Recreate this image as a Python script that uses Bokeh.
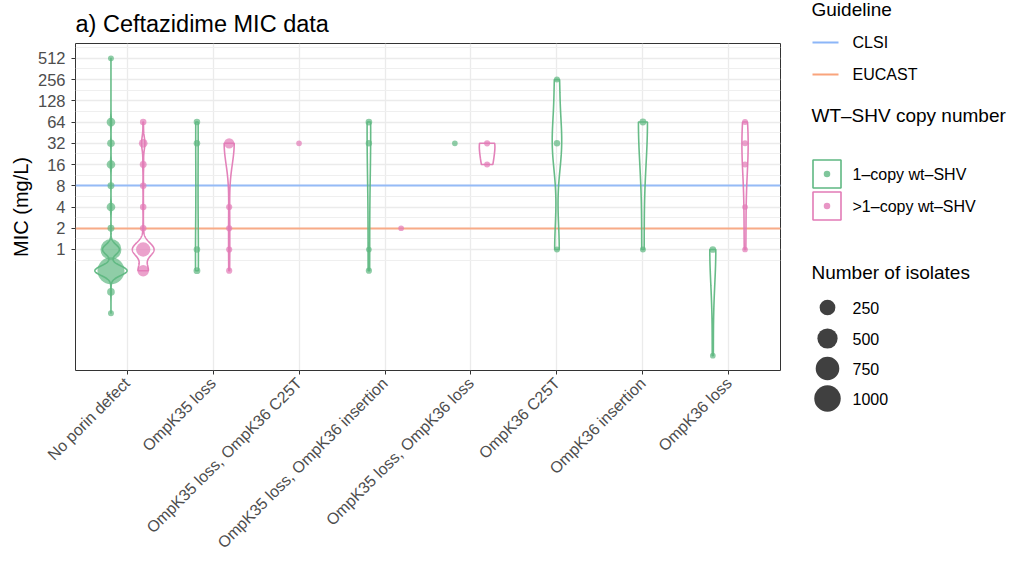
import math
import numpy as np
from bokeh.plotting import figure
from bokeh.models import Range1d, FixedTicker, ColumnDataSource
from bokeh.layouts import row
from bokeh.embed import file_html
from bokeh.resources import INLINE
from bokeh.core.properties import value

# ---------------- data ----------------
categories = ["No porin defect", "OmpK35 loss", "OmpK35 loss, OmpK36 C25T",
              "OmpK35 loss, OmpK36 insertion", "OmpK35 loss, OmpK36 loss",
              "OmpK36 C25T", "OmpK36 insertion", "OmpK36 loss"]
copy_groups = ["1\u2013copy wt\u2013SHV", ">1\u2013copy wt\u2013SHV"]
copy_colors = ["#5FB882", "#E27BB6"]
mic_breaks = [1, 2, 4, 8, 16, 32, 64, 128, 256, 512]

# one row per (porin category, copy group, MIC): number of isolates
pt_cat = [0, 0, 0, 0, 0, 0, 0, 0, 0, 0, 0,
          0, 0, 0, 0, 0, 0, 0, 0,
          1, 1, 1, 1,
          1, 1, 1, 1, 1,
          2,
          3, 3, 3, 3,
          3,
          4,
          4, 4,
          5, 5, 5,
          6, 6,
          7, 7,
          7, 7, 7, 7, 7]
pt_copy = [0, 0, 0, 0, 0, 0, 0, 0, 0, 0, 0,
           1, 1, 1, 1, 1, 1, 1, 1,
           0, 0, 0, 0,
           1, 1, 1, 1, 1,
           1,
           0, 0, 0, 0,
           1,
           0,
           1, 1,
           0, 0, 0,
           0, 0,
           0, 0,
           1, 1, 1, 1, 1]
pt_mic = [0.125, 0.25, 0.5, 1, 2, 4, 8, 16, 32, 64, 512,
          0.5, 1, 2, 4, 8, 16, 32, 64,
          0.5, 1, 32, 64,
          0.5, 1, 2, 4, 32,
          32,
          0.5, 1, 32, 64,
          2,
          32,
          16, 32,
          1, 32, 256,
          1, 64,
          0.03125, 1,
          1, 4, 16, 32, 64]
pt_n = [2, 15, 1050, 550, 8, 29, 8, 29, 15, 29, 2,
        90, 190, 5, 5, 5, 8, 29, 5,
        7, 5, 5, 5,
        3, 3, 3, 3, 60,
        1,
        3, 1, 4, 6,
        1,
        1,
        2, 3,
        2, 4, 2,
        2, 8,
        1, 6,
        1, 1, 2, 2, 2]

guide_names = ["CLSI", "EUCAST"]
guide_mic = [8, 2]
guide_colors = ["#8CB6F8", "#F9A47C"]
size_breaks = [250, 500, 750, 1000]

# ---------------- derived: dodge, sizes, violins ----------------
FONT = "Liberation Sans"
DODGE = 0.75
pt_cat_a = np.array(pt_cat)
pt_copy_a = np.array(pt_copy)
pt_mic_a = np.array(pt_mic, dtype=float)
pt_n_a = np.array(pt_n, dtype=float)

n_lo, n_hi = pt_n_a.min(), pt_n_a.max()


def diameter(n):
    s = 1 + 5 * (np.sqrt(n) - np.sqrt(n_lo)) / (np.sqrt(n_hi) - np.sqrt(n_lo))
    return 1.5 * (s * 2.845 + 0.945)


centers = {}
slots = {}
for c in range(len(categories)):
    present = sorted(set(pt_copy_a[pt_cat_a == c].tolist()))
    k = len(present)
    slot = DODGE / k
    for j, g in enumerate(present):
        centers[(c, g)] = (c + 1) + (j - (k - 1) / 2) * slot
        slots[(c, g)] = slot


def bw_nrd0(x):
    hi = np.std(x, ddof=1)
    q75, q25 = np.percentile(x, [75, 25])
    lo = min(hi, (q75 - q25) / 1.34)
    if lo == 0:
        lo = hi if hi else (abs(x[0]) if x[0] else 1.0)
    return 0.9 * lo * len(x) ** -0.2


ADJUST = 1.5
viol = []
for (c, g), cx in centers.items():
    m = (pt_cat_a == c) & (pt_copy_a == g)
    lx = np.log2(pt_mic_a[m])
    w = pt_n_a[m]
    if w.sum() < 2 or len(lx) < 2:
        continue
    obs = np.repeat(lx, w.astype(int))
    bw = bw_nrd0(obs) * ADJUST
    grid = np.linspace(lx.min(), lx.max(), 512)
    dens = (w[None, :] * np.exp(-0.5 * ((grid[:, None] - lx[None, :]) / bw) ** 2)).sum(1)
    dens = dens / (w.sum() * bw * math.sqrt(2 * math.pi))
    viol.append((c, g, cx, grid, dens))

dmax = max(v[4].max() for v in viol)
v_xs, v_ys, v_col = [], [], []
for c, g, cx, grid, dens in viol:
    hw = dens / dmax * slots[(c, g)] / 2
    v_xs.append(np.concatenate([cx - hw, (cx + hw)[::-1]]).tolist())
    v_ys.append(np.concatenate([2 ** grid, (2 ** grid)[::-1]]).tolist())
    v_col.append(copy_colors[g])

pts = ColumnDataSource(dict(
    x=[centers[(c, g)] for c, g in zip(pt_cat, pt_copy)],
    y=pt_mic,
    size=diameter(pt_n_a).tolist(),
    color=[copy_colors[g] for g in pt_copy],
))

# ---------------- main panel ----------------
H = 561
p = figure(width=782, height=H, x_range=Range1d(0.4, 8.6),
           y_range=Range1d(2 ** -5.7, 2 ** 9.7), y_axis_type="log",
           output_backend="svg", toolbar_location=None,
           min_border_left=75, min_border_right=2, min_border_top=43, min_border_bottom=191)
p.frame_align = False

p.title.text = "a) Ceftazidime MIC data"
p.title.text_font = FONT
p.title.text_font_size = "23.5px"
p.title.text_font_style = "normal"
p.title.text_color = "black"
p.title.align = "left"
p.title.standoff = 13

p.outline_line_color = "#333333"
p.outline_line_width = 1
p.xgrid.grid_line_color = "#EBEBEB"
p.xgrid.grid_line_width = 1.3
p.ygrid.grid_line_color = "#EBEBEB"
p.ygrid.grid_line_width = 1.3
p.ygrid.minor_grid_line_color = "#EFEFEF"
p.ygrid.minor_grid_line_width = 1.0

minor = [2 ** (k + 0.5) for k in range(-1, 10)]
p.yaxis.ticker = FixedTicker(ticks=mic_breaks, minor_ticks=minor)
p.yaxis.major_label_overrides = {b: str(b) for b in mic_breaks}
p.yaxis.axis_label = "MIC (mg/L)"
p.xaxis.ticker = FixedTicker(ticks=list(range(1, len(categories) + 1)))
p.xaxis.major_label_overrides = {i + 1: c for i, c in enumerate(categories)}
p.xaxis.major_label_orientation = math.pi / 4

for ax in (p.xaxis[0], p.yaxis[0]):
    ax.axis_line_color = None
    ax.major_tick_line_color = "#333333"
    ax.major_tick_out = 4
    ax.major_tick_in = 0
    ax.minor_tick_line_color = None
    ax.major_label_text_color = "#4D4D4D"
    ax.major_label_text_font = FONT
    ax.major_label_standoff = 6
p.xaxis.major_label_text_font_size = "16px"
p.yaxis.major_label_text_font_size = "16.5px"
p.yaxis.axis_label_text_font = FONT
p.yaxis.axis_label_text_font_size = "20px"
p.yaxis.axis_label_text_font_style = "normal"
p.yaxis.axis_label_text_color = "black"
p.yaxis.axis_label_standoff = 3

p.hspan(y=guide_mic, line_color=guide_colors, line_width=2.2, line_alpha=0.9)
p.patches(v_xs, v_ys, fill_alpha=0, line_color=v_col, line_width=1.6, line_alpha=0.95)
p.scatter("x", "y", size="size", fill_color="color", line_color=None, fill_alpha=0.7, source=pts)

# ---------------- legend panel ----------------
LW = 234
lg = figure(width=LW, height=H, x_range=Range1d(0, LW), y_range=Range1d(H, 0),
            output_backend="svg", toolbar_location=None, min_border=0,
            x_axis_location=None, y_axis_location=None)
lg.frame_align = False
lg.outline_line_color = None
lg.grid.grid_line_color = None

title_kw = dict(text_font=value(FONT), text_font_size="19px", text_baseline="middle",
                text_color="black")
lab_kw = dict(text_font=value(FONT), text_font_size="16px", text_baseline="middle",
              text_color="black")

lg.text(x=[29, 29, 29], y=[9, 115, 272],
        text=["Guideline", "WT\u2013SHV copy number", "Number of isolates"], **title_kw)

gy = [42, 74]
lg.segment(x0=[30, 30], y0=gy, x1=[56, 56], y1=gy, line_color=guide_colors, line_width=2)
lg.text(x=[70, 70], y=gy, text=guide_names, **lab_kw)

cy = [173.5, 205.5]
lg.rect(x=[44.5, 44.5], y=cy, width=28, height=28, fill_color="white",
        line_color=copy_colors, line_width=1.6)
lg.scatter(x=[44.5, 44.5], y=cy, size=6.5, fill_color=copy_colors, line_color=None, fill_alpha=0.8)
lg.text(x=[70, 70], y=cy, text=copy_groups, **lab_kw)

sy = [307, 338, 368, 398]
lg.scatter(x=[45] * 4, y=sy, size=diameter(np.array(size_breaks, dtype=float)).tolist(),
           fill_color="black", line_color=None, fill_alpha=0.75)
lg.text(x=[70] * 4, y=sy, text=[str(s) for s in size_breaks], **lab_kw)

layout = row(p, lg)
open("out.html", "w").write(file_html(layout, INLINE))
